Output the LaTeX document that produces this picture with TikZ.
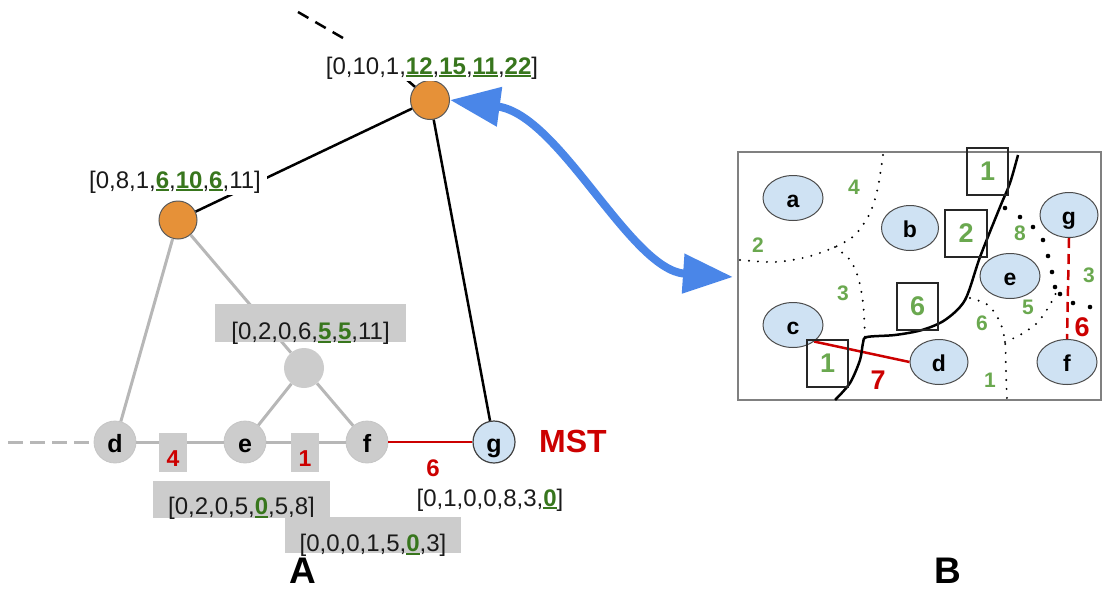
\documentclass[tikz,border=0pt]{standalone}
\usepackage{fontspec}
\setmainfont{Liberation Sans}
\usetikzlibrary{arrows.meta,shapes.geometric}
\definecolor{orng}{HTML}{E69138}
\definecolor{grnA}{HTML}{38761D}
\definecolor{grnB}{HTML}{6AA84F}
\definecolor{redc}{HTML}{CC0000}
\definecolor{bluea}{HTML}{4A86E8}
\definecolor{lblue}{HTML}{CFE2F3}
\definecolor{gfill}{HTML}{CCCCCC}
\definecolor{gline}{HTML}{B7B7B7}
\definecolor{txt}{HTML}{1A1A1A}
\newcommand\gu[1]{{\color{grnA}\setbox0\hbox{\bfseries #1}\rlap{\rule[-3pt]{\wd0}{1.8pt}}\box0}}
\newcommand\fs[1]{\fontsize{#1}{#1}\selectfont}
\tikzset{
  orangenode/.style={circle, fill=orng, draw=black!65, line width=1pt, minimum size=39pt, inner sep=0pt},
  graynode/.style={circle, fill=gfill, draw=gline!80, line width=0.8pt, minimum size=42pt, inner sep=0pt, font=\bfseries\fs{25}, text height=20pt, text depth=0pt},
  bluenodeA/.style={graynode, fill=lblue, draw=black!75, line width=1.2pt},
  lbl/.style={font=\fs{24}, text=txt, inner xsep=6pt, inner ysep=2pt, fill=white, anchor=base},
  graybox/.style={fill=gfill, inner sep=0pt, font=\fs{24}, text=txt, anchor=south},
  wbox/.style={graybox, font=\bfseries\fs{23}, text=redc, minimum width=28pt, text height=34pt, text depth=5pt},
  treeblack/.style={line width=2.5pt, black},
  treegray/.style={line width=3pt, gline},
  ell/.style={ellipse, fill=lblue, draw=black!70, line width=1pt, minimum width=60pt, minimum height=45pt, inner sep=0pt, font=\bfseries\fs{23}, text height=19pt, text depth=0pt},
  sqbox/.style={draw=black!85, line width=1.5pt, minimum width=41pt, minimum height=47pt, inner sep=0pt, font=\bfseries\fs{27}, text=grnB},
  gnum/.style={font=\bfseries\fs{21}, text=grnB, inner sep=0pt},
  rnum/.style={font=\bfseries\fs{27}, text=redc, inner sep=0pt},
  dotl/.style={line width=2.2pt, dash pattern=on 0pt off 9pt, line cap=round},
  panel/.style={font=\bfseries\fs{37}, anchor=base, inner sep=0pt}
}
\begin{document}
\begin{tikzpicture}[x=1pt,y=-1pt]
\useasboundingbox (0,0) rectangle (1103,590);
% ---------- Panel A ----------
\node[orangenode] (top) at (430,100) {};
\node[orangenode, minimum size=38pt] (lo) at (178,220) {};
\node[circle, fill=gfill, minimum size=40pt, inner sep=0pt] (mid) at (304,368) {};
\node[graynode] (d) at (115,442) {d};
\node[graynode] (e) at (245,442) {e};
\node[graynode] (f) at (367,442) {f};
\node[bluenodeA] (g) at (494,442) {g};

\coordinate (up0) at (298,12);
\coordinate (up1) at (343,38);
\coordinate (up2) at (406,79);
\coordinate (gd0) at (8,442);
\draw[treeblack, dash pattern=on 12pt off 8pt] (up0) -- (up1);
\draw[treeblack] (up2) -- (top);
\draw[treeblack] (top) -- (lo);
\draw[treeblack] (top) -- (g);
\draw[treegray] (lo) -- (d);
\draw[treegray] (lo) -- (mid);
\draw[treegray] (mid) -- (e);
\draw[treegray] (mid) -- (f);
\draw[treegray] (d) -- (e);
\draw[treegray] (e) -- (f);
\draw[treegray, dash pattern=on 15pt off 7pt] (gd0) -- (d);
\draw[line width=2.5pt, redc] (f) -- (g);

\node[lbl] (ltop) at (432,74) {[0,10,1,\gu{12},\gu{15},\gu{11},\gu{22}]};
\node[lbl] (llo) at (175,188) {[0,8,1,\gu{6},\gu{10},\gu{6},11]};
\node[graybox, minimum width=191pt, text height=36pt, text depth=2pt] (lmid) at (310.5,342) {[0,2,0,6,\gu{5},\gu{5},11]};
\node[wbox] (w4) at (173,472) {4};
\node[wbox] (w1) at (305,472) {1};
\node[graybox, minimum width=177pt, text height=34pt, text depth=3pt] (le) at (241.5,518) {[0,2,0,5,\gu{0},5,8]};
\node[graybox, minimum width=176pt, text height=35pt, text depth=1pt] (lf) at (373,553) {[0,0,0,1,5,\gu{0},3]};
\node[lbl, fill=none] (lg) at (490,506) {[0,1,0,0,8,3,\gu{0}]};
\node[font=\bfseries\fs{24}, text=redc, inner sep=0pt] (w6) at (433,468) {6};
\node[font=\bfseries\fs{32}, text=redc, inner sep=0pt] (mst) at (573,441) {MST};
\node[panel] (pa) at (303,583) {A};
\node[panel] (pb) at (948,583) {B};

% ---------- Arrow ----------
\coordinate (ar1) at (733,277);
\draw[line width=8pt, bluea, {Triangle[length=50pt,width=38pt]}-{Triangle[length=50pt,width=38pt]}] (top.east) .. controls (560,115) and (630,270) .. (ar1);

% ---------- Panel B ----------
\draw[line width=1.5pt, black!50] (738,152) rectangle (1101,400);
% dotted boundaries
\draw[dotl] plot[smooth] coordinates {(740,260) (775,262) (807,257) (835,247) (855,235) (870,213) (878,187) (883,155)};
\draw[dotl] plot[smooth] coordinates {(835,247) (850,260) (858,277) (863,302) (865,337)};
\draw[dotl] plot[smooth] coordinates {(970,298) (988,305) (1000,322) (1005,342) (1006,372) (1007,400)};
\draw[dotl] plot[smooth] coordinates {(1005,342) (1020,335) (1037,323) (1048,308) (1055,295) (1058,288)};
\foreach \p in {(1005,208),(1020,217),(1033,227),(1043,240),(1048,256),(1052,272),(1055,287),(1060,294),(1073,303),(1090,307)}
  \fill \p circle (2.3pt);

\node[ell] (a) at (793,198) {a};
\node[ell, minimum width=57pt] (b) at (910,228) {b};
\node[ell] (eB) at (1010,276) {e};
\node[ell, minimum width=58pt] (gB) at (1069,215) {g};
\node[ell] (c) at (793,325) {c};
\node[ell, minimum width=58pt] (dB) at (939,362) {d};
\node[ell] (fB) at (1067,362) {f};

\draw[line width=2.5pt, redc] (c.-38) -- (dB.west);
\draw[line width=2.5pt, redc, dash pattern=on 10pt off 6pt] (gB.south) -- (fB.north);

\draw[line width=2.5pt] plot[smooth, tension=0.5] coordinates {(835,400) (850,383) (860,360) (863,343) (867,337) (895,335) (922,330) (945,320) (965,300) (980,257) (1000,207) (1010,183) (1018,155)};

\node[sqbox] (s1) at (987.5,171.5) {1};
\node[sqbox, minimum width=42pt] (s2) at (966,233.5) {2};
\node[sqbox] (s6) at (917.5,306.5) {6};
\node[sqbox] (s1b) at (827.5,363.5) {1};

\node[gnum] (n4) at (854,187) {4};
\node[gnum] (n2) at (758,245) {2};
\node[gnum] (n3) at (843,293) {3};
\node[gnum] (n8) at (1020,233) {8};
\node[gnum] (n3b) at (1089,275) {3};
\node[gnum] (n5) at (1028,307) {5};
\node[gnum] (n6) at (982,323) {6};
\node[gnum] (n1) at (990,380) {1};
\node[rnum] (r7) at (878,380) {7};
\node[rnum] (r6) at (1082,327) {6};
\end{tikzpicture}
\end{document}
